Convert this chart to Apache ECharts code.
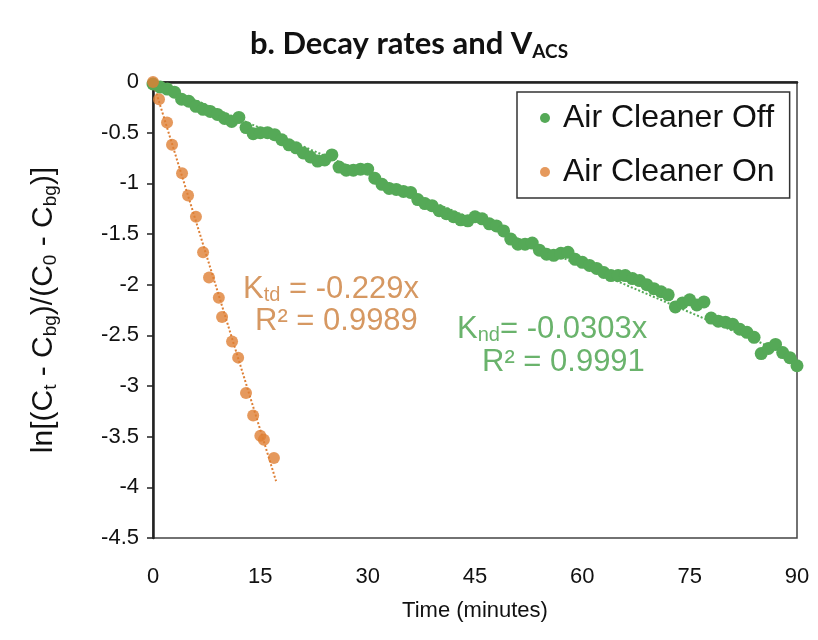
<!DOCTYPE html>
<html><head><meta charset="utf-8">
<script src="https://cdn.jsdelivr.net/npm/echarts@6/dist/echarts.min.js"></script>
<style>html,body{margin:0;padding:0;background:#fff}#c{width:818px;height:640px}</style>
</head><body><div id="c"></div>
<script>
// Air Cleaner On (time in minutes, ln ratio)
const onTimes  = [0, 0.84, 1.96, 2.66, 4.06, 4.9, 6.0, 7.0, 7.83, 9.2, 9.65, 11.05, 11.9, 13.0, 14.0, 15.0, 15.5, 16.9];
const onValues = [0, -0.17, -0.40, -0.62, -0.90, -1.12, -1.33, -1.68, -1.93, -2.13, -2.32, -2.56, -2.72, -3.07, -3.29, -3.49, -3.53, -3.71];
// Air Cleaner Off (one reading per minute)
const offTimes = [0,1,2,3,4,5,6,7,8,9,10,11,12,13,14,15,16,17,18,19,20,21,22,23,24,25,26,27,28,29,30,31,32,33,34,35,36,37,38,39,40,41,42,43,44,45,46,47,48,49,50,51,52,53,54,55,56,57,58,59,60,61,62,63,64,65,66,67,68,69,70,71,72,73,74,75,76,77,78,79,80,81,82,83,84,85,86,87,88,89,90];
const offValues = [-0.02,-0.05,-0.07,-0.10,-0.17,-0.19,-0.24,-0.27,-0.29,-0.32,-0.36,-0.39,-0.35,-0.45,-0.51,-0.50,-0.50,-0.52,-0.57,-0.62,-0.65,-0.70,-0.74,-0.78,-0.77,-0.72,-0.84,-0.87,-0.87,-0.86,-0.86,-0.95,-1.01,-1.05,-1.06,-1.08,-1.09,-1.16,-1.20,-1.22,-1.27,-1.30,-1.33,-1.36,-1.37,-1.33,-1.35,-1.40,-1.42,-1.47,-1.55,-1.60,-1.60,-1.59,-1.66,-1.70,-1.71,-1.69,-1.68,-1.75,-1.78,-1.81,-1.84,-1.88,-1.91,-1.91,-1.91,-1.94,-1.96,-2.00,-2.04,-2.07,-2.10,-2.22,-2.18,-2.15,-2.20,-2.17,-2.33,-2.36,-2.37,-2.39,-2.44,-2.47,-2.52,-2.68,-2.63,-2.59,-2.67,-2.72,-2.80];
// Trendline fits (through origin)
const slopeOn = -0.229, slopeOff = -0.0303;
const trendOnEnd = 17.2, trendOffEnd = 90;
const xTicks = [0, 15, 30, 45, 60, 75, 90];
const yTicks = [0, -0.5, -1, -1.5, -2, -2.5, -3, -3.5, -4, -4.5];

const green = '#55a957', orange = '#de7f35';
const txtOrange = '#d69862', txtGreen = '#6ab36c';
const zip = (a, b) => a.map((v, i) => [v, b[i]]);

const chart = echarts.init(document.getElementById('c'));
chart.setOption({
  animation: false,
  backgroundColor: '#fff',
  title: {
    text: '{a|b. Decay rates and V}{b|ACS}',
    left: 'center', top: 20,
    textStyle: { rich: {
      a: { fontFamily: 'Lato', fontWeight: 'bold', fontSize: 31, color: '#111', lineHeight: 38 },
      b: { fontFamily: 'Lato', fontWeight: 'bold', fontSize: 19, color: '#111', lineHeight: 38, padding: [16, 0, 0, 0] }
    }}
  },
  grid: { left: 153, right: 21, top: 82, bottom: 102, show: true, borderColor: '#444', borderWidth: 1.5 },
  legend: {
    data: ['Air Cleaner Off', 'Air Cleaner On'],
    orient: 'vertical', left: 517, top: 92,
    borderColor: '#333', borderWidth: 1.5, borderRadius: 0,
    padding: [10, 15, 10, 23], itemGap: 22,
    icon: 'circle', itemWidth: 10, itemHeight: 10,
    textStyle: { fontFamily: 'Liberation Sans', fontSize: 32, color: '#111', padding: [0, 0, 0, 8] }
  },
  xAxis: [{
    type: 'value', min: 0, max: 90, interval: 15, position: 'bottom',
    axisLine: { show: false }, axisTick: { show: false }, splitLine: { show: false },
    axisLabel: { fontFamily: 'Liberation Sans', fontSize: 22, color: '#111', margin: 28 },
    name: 'Time (minutes)', nameLocation: 'middle', nameGap: 62,
    nameTextStyle: { fontFamily: 'Liberation Sans', fontSize: 22, color: '#111' }
  }, {
    type: 'value', min: 0, max: 90, interval: 15, position: 'top',
    axisLine: { show: true, lineStyle: { color: '#222', width: 2.5 } },
    axisTick: { show: false }, axisLabel: { show: false }, splitLine: { show: false }
  }],
  yAxis: {
    type: 'value', min: -4.5, max: 0, interval: 0.5,
    axisLine: { show: true, lineStyle: { color: '#222', width: 2.5 } },
    axisTick: { show: true, inside: false, length: 6, lineStyle: { color: '#222', width: 1.5 } },
    splitLine: { show: false },
    axisLabel: { fontFamily: 'Liberation Sans', fontSize: 22, color: '#111', margin: 14 },
    name: '{n|ln[(C}{s|t}{n| - C}{s|bg}{n|)/(C}{s|0}{n| - C}{s|bg}{n|)]}',
    nameLocation: 'middle', nameGap: 92,
    nameTextStyle: { rich: {
      n: { fontFamily: 'Liberation Sans', fontSize: 30, color: '#111', lineHeight: 34 },
      s: { fontFamily: 'Liberation Sans', fontSize: 19, color: '#111', lineHeight: 34, padding: [14, 0, 0, 0] }
    }}
  },
  series: [
    { name: 'trendOff', type: 'line', showSymbol: false, silent: true, z: 1,
      data: [[0, 0], [trendOffEnd, slopeOff * trendOffEnd]],
      lineStyle: { color: green, type: 'dotted', width: 2 } },
    { name: 'trendOn', type: 'line', showSymbol: false, silent: true, z: 1,
      data: [[0, 0], [trendOnEnd, slopeOn * trendOnEnd]],
      lineStyle: { color: orange, type: 'dotted', width: 2 } },
    { name: 'Air Cleaner Off', type: 'scatter', symbol: 'circle', symbolSize: 13, z: 3,
      itemStyle: { color: green, opacity: 1 }, data: zip(offTimes, offValues) },
    { name: 'Air Cleaner On', type: 'scatter', symbol: 'circle', symbolSize: 12, z: 4,
      itemStyle: { color: orange }, data: zip(onTimes, onValues) }
  ],
  graphic: [
    { type: 'text', left: 243, top: 273, style: {
      text: '{k|K}{s|td}{k| = -0.229x}', rich: {
        k: { fontFamily: 'Liberation Sans', fontSize: 31, fill: txtOrange, lineHeight: 34 },
        s: { fontFamily: 'Liberation Sans', fontSize: 20, fill: txtOrange, lineHeight: 34, padding: [12, 0, 0, 0] } } } },
    { type: 'text', left: 255, top: 306, style: {
      text: 'R² = 0.9989', font: '31px "Liberation Sans"', fill: txtOrange } },
    { type: 'text', left: 457, top: 313, style: {
      text: '{k|K}{s|nd}{k|= -0.0303x}', rich: {
        k: { fontFamily: 'Liberation Sans', fontSize: 31, fill: txtGreen, lineHeight: 34 },
        s: { fontFamily: 'Liberation Sans', fontSize: 20, fill: txtGreen, lineHeight: 34, padding: [12, 0, 0, 0] } } } },
    { type: 'text', left: 482, top: 347, style: {
      text: 'R² = 0.9991', font: '31px "Liberation Sans"', fill: txtGreen } }
  ]
});
</script></body></html>
